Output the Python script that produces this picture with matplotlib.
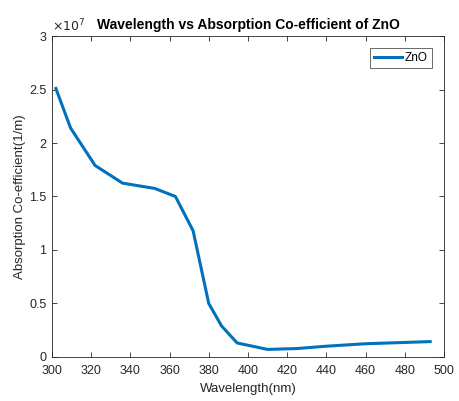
import matplotlib.pyplot as plt
from matplotlib.ticker import FuncFormatter, MultipleLocator

plt.rcParams['font.family'] = ['Liberation Sans', 'DejaVu Sans']

# wavelength (nm) and absorption coefficient (1/m)
wavelength = [302, 309.5, 322, 336, 352.5, 363, 372, 380, 386.5, 394.5,
              410, 425, 440, 460, 493]
absorption = [2.51e7, 2.14e7, 1.79e7, 1.625e7, 1.575e7, 1.50e7, 1.18e7, 0.50e7,
              0.29e7, 0.13e7, 0.07e7, 0.078e7, 0.10e7, 0.123e7, 0.143e7]

fig = plt.figure(figsize=(4.6, 4.01), dpi=100)
ax = fig.add_axes([0.113, 0.110, 0.852, 0.800])

ax.plot(wavelength, absorption, color='#0072BD', linewidth=2.2, label='ZnO')

ax.set_xlim(300, 500)
ax.set_ylim(0, 3e7)
ax.xaxis.set_major_locator(MultipleLocator(20))
ax.yaxis.set_major_locator(MultipleLocator(0.5e7))
ax.yaxis.set_major_formatter(FuncFormatter(lambda v, p: f"{v / 1e7:g}"))

ax.tick_params(direction='in', top=True, right=True, length=3.5,
               width=0.6, labelsize=9, colors='#262626')
ax.tick_params(axis='x', pad=6)
ax.tick_params(axis='y', pad=4)
for s in ax.spines.values():
    s.set_linewidth(0.6)
    s.set_color('#262626')

ax.text(0.0, 1.005, r'$\times10^{7}$', transform=ax.transAxes,
        fontsize=9, color='#262626', va='bottom', ha='left')

ax.set_title('Wavelength vs Absorption Co-efficient of ZnO',
             fontsize=10, fontweight='bold', pad=5)
ax.set_xlabel('Wavelength(nm)', fontsize=9.5, color='#262626', labelpad=4)
ax.set_ylabel('Absorption Co-efficient(1/m)', fontsize=9.5, color='#262626',
              labelpad=2)

leg = ax.legend(loc='upper right', fontsize=8.5, fancybox=False,
                handlelength=2.3, borderaxespad=1.0, borderpad=0.35,
                handletextpad=0.3)
leg.get_frame().set_edgecolor('#262626')
leg.get_frame().set_linewidth(0.6)

plt.savefig('out.png', dpi=100)
